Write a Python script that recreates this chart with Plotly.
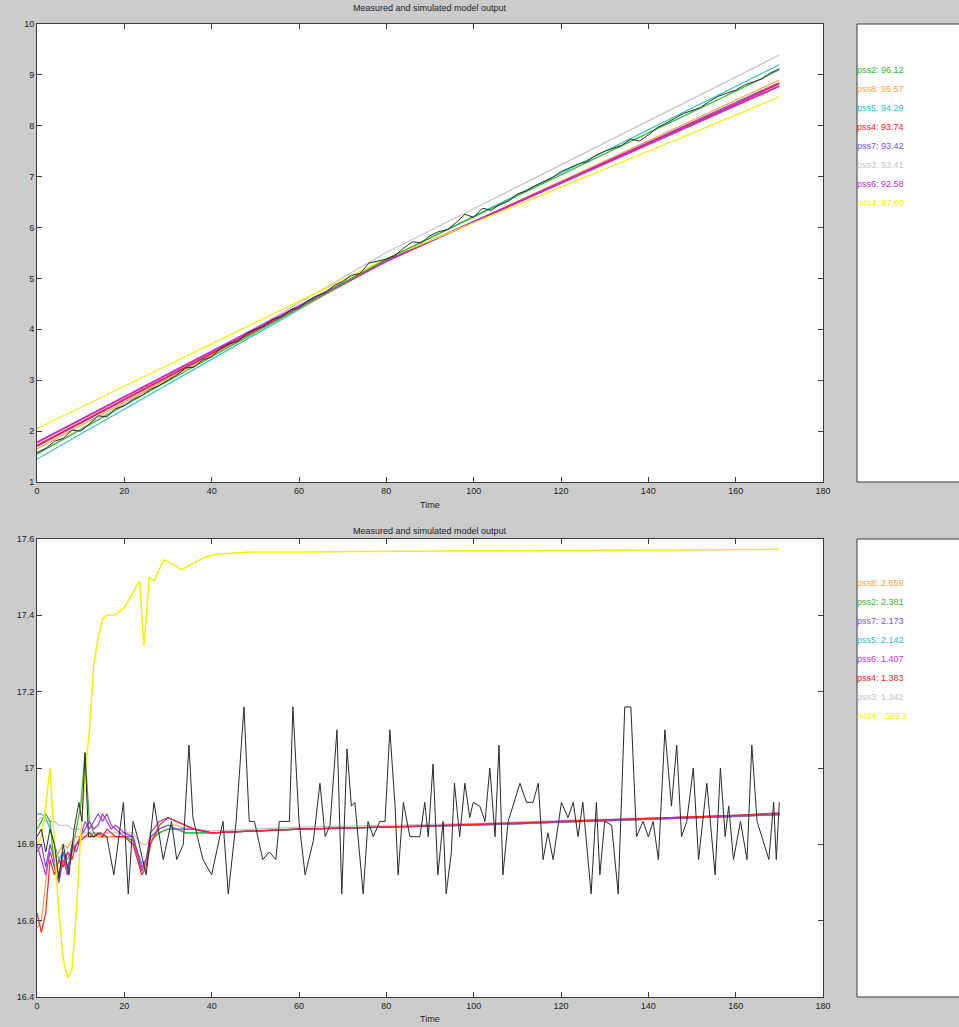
import plotly.graph_objects as go

W, H = 959, 1027

# ---------------- top panel data ----------------
top_meas_t = list(range(0, 171, 2))
top_meas = [1.58, 1.66, 1.80, 1.86, 2.02, 2.00, 2.14, 2.30, 2.28, 2.44,
            2.50, 2.62, 2.70, 2.82, 2.90, 3.00, 3.10, 3.24, 3.26, 3.40,
            3.46, 3.62, 3.72, 3.76, 3.92, 4.00, 4.06, 4.20, 4.24, 4.38,
            4.42, 4.56, 4.66, 4.72, 4.86, 4.94, 5.06, 5.10, 5.30, 5.34,
            5.38, 5.45, 5.60, 5.72, 5.70, 5.84, 5.92, 5.96, 6.10, 6.26,
            6.20, 6.38, 6.34, 6.45, 6.52, 6.66, 6.72, 6.82, 6.90, 6.98,
            7.10, 7.18, 7.25, 7.30, 7.42, 7.50, 7.56, 7.62, 7.74, 7.70,
            7.82, 7.96, 8.05, 8.14, 8.24, 8.30, 8.36, 8.48, 8.58, 8.64,
            8.70, 8.80, 8.86, 8.92, 9.04, 9.12]

top_model_t = [0, 20, 40, 60, 80, 100, 120, 140, 160, 170]
top_models = {
    "pss3": [1.55, 2.54, 3.53, 4.52, 5.51, 6.37, 7.23, 8.09, 8.95, 9.39],
    "pss5": [1.45, 2.43, 3.41, 4.39, 5.37, 6.22, 7.07, 7.92, 8.77, 9.20],
    "pss8": [1.65, 2.57, 3.49, 4.41, 5.33, 6.12, 6.91, 7.70, 8.50, 8.90],
    "pss7": [1.70, 2.61, 3.52, 4.43, 5.34, 6.11, 6.89, 7.67, 8.45, 8.85],
    "pss4": [1.72, 2.62, 3.53, 4.43, 5.34, 6.11, 6.89, 7.66, 8.43, 8.83],
    "pss6": [1.78, 2.67, 3.56, 4.45, 5.35, 6.11, 6.87, 7.63, 8.39, 8.78],
    "n4s4": [2.05, 2.88, 3.72, 4.55, 5.39, 6.09, 6.80, 7.50, 8.21, 8.57],
    "pss2": [1.55, 2.50, 3.46, 4.42, 5.38, 6.21, 7.04, 7.86, 8.68, 9.10],
}
top_legend = [("pss2", "96.12"), ("pss8", "95.57"), ("pss5", "94.29"), ("pss4", "93.74"),
              ("pss7", "93.42"), ("pss3", "93.41"), ("pss6", "92.58"), ("n4s4", "87.60")]

# ---------------- bottom panel data ----------------
bot_meas_t = [0, 1, 2, 3, 4, 5, 6, 7.3, 8.5, 9.6, 10.3, 11, 11.8, 13, 14.5, 16, 17.6, 19.8,
              20.9, 22, 23, 25, 26.8, 28.9, 30.8, 32, 33.5, 34.8, 35.7, 38, 40, 42.6, 43.8,
              45.6, 47.4, 48.6, 49.8, 51.7, 53.2, 54.7, 55.5, 57.8, 58.6, 60, 61.4, 63.3,
              64.8, 66, 67.1, 68.7, 69.8, 71, 72, 72.8, 74.7, 75.8, 77, 78.5, 79.7, 80.8,
              82, 82.7, 83.9, 85.4, 87.7, 88.8, 89.6, 90.7, 91.8, 93, 93.7, 94.9, 95.6,
              96.8, 98, 99.1, 99.9, 101.4, 102.6, 103.7, 104.9, 105.8, 106.7, 107.9,
              110.6, 112.1, 113.6, 114.8, 115.9, 117, 118.2, 120.1, 121.6, 122.8, 123.9,
              125, 126.9, 128.1, 128.9, 130, 131.6, 133.1, 134.6, 136, 137.3, 138.8, 140,
              141.1, 142.3, 143.8, 145.3, 146.5, 147.6, 148.8, 150.3, 151.5, 153.4, 155.3,
              156.5, 157.6, 158.4, 159.5, 161.1, 162.6, 163.7, 164.9, 166, 167.6, 168.7,
              169.3, 170]
bot_meas = [16.82, 16.84, 16.78, 16.84, 16.80, 16.71, 16.80, 16.72, 16.84, 16.91, 16.86,
            17.04, 16.82, 16.82, 16.83, 16.82, 16.72, 16.91, 16.67, 16.86, 16.82, 16.72,
            16.91, 16.76, 16.86, 16.76, 16.80, 17.06, 16.87, 16.76, 16.72, 16.86, 16.67,
            16.86, 17.16, 16.86, 16.86, 16.76, 16.78, 16.76, 16.86, 16.86, 17.16, 16.86,
            16.72, 16.81, 16.96, 16.82, 16.85, 17.10, 16.67, 17.05, 16.90, 16.91, 16.67,
            16.86, 16.82, 16.86, 16.86, 17.10, 16.90, 16.72, 16.91, 16.82, 16.82, 16.91,
            16.82, 17.01, 16.72, 16.86, 16.67, 16.78, 16.96, 16.82, 16.96, 16.87, 16.91,
            16.90, 16.86, 17.00, 16.82, 17.06, 16.72, 16.86, 16.96, 16.91, 16.91, 16.96,
            16.76, 16.83, 16.76, 16.91, 16.87, 16.91, 16.82, 16.91, 16.67, 16.91, 16.72,
            16.86, 16.85, 16.67, 17.16, 17.16, 16.82, 16.86, 16.82, 16.86, 16.76, 17.10,
            16.90, 17.06, 16.82, 16.86, 17.00, 16.76, 16.96, 16.72, 17.00, 16.82, 16.90,
            16.76, 16.86, 16.76, 17.06, 16.86, 16.82, 16.76, 16.91, 16.76, 16.91]

bot_model_t = [0, 1, 2, 3, 4, 5, 6, 7, 8, 9, 10, 11, 12, 13, 14, 15, 16, 17, 18, 20, 22,
               24, 25, 26, 28, 30, 32, 34, 36, 40, 50, 60, 80, 100, 120, 140, 160, 170]
bot_models = {
    "pss3": [16.86, 16.87, 16.86, 16.86, 16.86, 16.85, 16.85, 16.85, 16.84, 16.84, 16.84,
             16.83, 16.83, 16.83, 16.83, 16.83, 16.83, 16.83, 16.83, 16.83, 16.83, 16.80,
             16.80, 16.82, 16.83, 16.84, 16.84, 16.84, 16.84, 16.835, 16.84, 16.845, 16.85,
             16.855, 16.862, 16.868, 16.875, 16.88],
    "pss5": [16.88, 16.88, 16.87, 16.84, 16.80, 16.76, 16.78, 16.76, 16.79, 16.80, 16.82,
             16.82, 16.82, 16.83, 16.82, 16.82, 16.82, 16.82, 16.82, 16.82, 16.81, 16.75,
             16.76, 16.81, 16.83, 16.84, 16.84, 16.83, 16.83, 16.83, 16.835, 16.84, 16.845,
             16.85, 16.858, 16.865, 16.873, 16.878],
    "pss2": [16.84, 16.86, 16.88, 16.86, 16.74, 16.70, 16.78, 16.72, 16.78, 16.84, 16.90,
             17.04, 16.86, 16.83, 16.82, 16.82, 16.82, 16.82, 16.82, 16.82, 16.81, 16.73,
             16.75, 16.81, 16.83, 16.84, 16.84, 16.83, 16.83, 16.83, 16.835, 16.84, 16.845,
             16.85, 16.858, 16.865, 16.873, 16.878],
    "pss8": [16.58, 16.60, 16.70, 16.80, 16.76, 16.78, 16.80, 16.79, 16.81, 16.82, 16.82,
             16.82, 16.82, 16.82, 16.82, 16.82, 16.82, 16.82, 16.82, 16.82, 16.80, 16.73,
             16.75, 16.81, 16.84, 16.85, 16.85, 16.84, 16.84, 16.83, 16.835, 16.84, 16.845,
             16.85, 16.858, 16.865, 16.873, 16.878],
    "pss7": [16.78, 16.80, 16.74, 16.80, 16.76, 16.72, 16.78, 16.74, 16.78, 16.80, 16.82,
             16.86, 16.84, 16.86, 16.88, 16.86, 16.88, 16.85, 16.84, 16.82, 16.82, 16.74,
             16.76, 16.82, 16.84, 16.85, 16.84, 16.84, 16.84, 16.83, 16.835, 16.84, 16.845,
             16.85, 16.858, 16.865, 16.873, 16.878],
    "pss6": [16.80, 16.76, 16.72, 16.78, 16.74, 16.70, 16.76, 16.72, 16.80, 16.78, 16.82,
             16.84, 16.86, 16.84, 16.85, 16.88, 16.86, 16.84, 16.85, 16.83, 16.82, 16.73,
             16.76, 16.83, 16.86, 16.87, 16.86, 16.85, 16.84, 16.83, 16.835, 16.84, 16.845,
             16.852, 16.86, 16.868, 16.876, 16.882],
    "pss4": [16.62, 16.57, 16.62, 16.76, 16.72, 16.76, 16.74, 16.78, 16.76, 16.80, 16.81,
             16.82, 16.83, 16.82, 16.83, 16.82, 16.84, 16.83, 16.82, 16.82, 16.80, 16.72,
             16.74, 16.80, 16.85, 16.87, 16.86, 16.85, 16.84, 16.83, 16.835, 16.84, 16.846,
             16.852, 16.86, 16.868, 16.876, 16.882],
}
bot_yel_t = [0, 1, 2, 3, 4, 5, 6, 7, 8, 9, 10, 11, 12, 13, 14, 15, 16, 17.6, 20, 22.5,
             23.5, 24.5, 25.7, 26.8, 29, 30.2, 33.2, 35.5, 38.6, 41, 49, 60, 80, 100, 120,
             140, 160, 170]
bot_yel = [16.80, 16.82, 16.90, 17.00, 16.80, 16.62, 16.50, 16.45, 16.47, 16.62, 16.82,
           16.98, 17.10, 17.27, 17.34, 17.39, 17.40, 17.40, 17.42, 17.47, 17.49, 17.32,
           17.50, 17.49, 17.545, 17.54, 17.52, 17.535, 17.553, 17.56, 17.566, 17.566,
           17.568, 17.569, 17.570, 17.571, 17.572, 17.573]
bot_legend = [("pss8", "2.659"), ("pss2", "2.381"), ("pss7", "2.173"), ("pss5", "2.142"),
              ("pss6", "1.407"), ("pss4", "1.383"), ("pss3", "1.342"), ("n4s4", "-589.3")]

colors = {
    "pss2": "#2fb82f", "pss8": "#ffa040", "pss5": "#2ec0c0", "pss4": "#ff2020",
    "pss7": "#7a4dff", "pss3": "#c4c4c4", "pss6": "#c030d0", "n4s4": "#f2f200",
}
widths = {"pss6": 2, "pss4": 1.5}

fig = go.Figure()

for name, vals in top_models.items():
    fig.add_trace(go.Scatter(x=top_model_t, y=vals, mode="lines", xaxis="x", yaxis="y",
                             line=dict(color=colors[name], width=widths.get(name, 1.2)),
                             showlegend=False))
fig.add_trace(go.Scatter(x=top_meas_t, y=top_meas, mode="lines", xaxis="x", yaxis="y",
                         line=dict(color="#2a2a2a", width=1), showlegend=False))

for name, vals in bot_models.items():
    fig.add_trace(go.Scatter(x=bot_model_t, y=vals, mode="lines", xaxis="x2", yaxis="y2",
                             line=dict(color=colors[name], width=1.2), showlegend=False))
fig.add_trace(go.Scatter(x=bot_yel_t, y=bot_yel, mode="lines", xaxis="x2", yaxis="y2",
                         line=dict(color=colors["n4s4"], width=1.5), showlegend=False))
fig.add_trace(go.Scatter(x=bot_meas_t, y=bot_meas, mode="lines", xaxis="x2", yaxis="y2",
                         line=dict(color="#2a2a2a", width=1), showlegend=False))

def px_x(p):
    return p / W

def px_y(p):
    return 1 - p / H

xdom = [px_x(37), px_x(823)]
top_dom = [px_y(482), px_y(24)]
bot_dom = [px_y(997), px_y(539)]

axis_common = dict(showgrid=False, zeroline=False, ticks="inside", ticklen=5,
                   mirror="ticks", showline=True, linecolor="#3a3a3a", linewidth=1,
                   tickcolor="#3a3a3a", tickfont=dict(family="Liberation Sans", size=9,
                                                      color="#222222"),
                   automargin=False)

xticks = list(range(0, 181, 20))
top_yticks = list(range(1, 11))
bot_yticks = [16.4, 16.6, 16.8, 17.0, 17.2, 17.4, 17.6]
bot_ytext = ["16.4", "16.6", "16.8", "17", "17.2", "17.4", "17.6"]

fig.update_layout(
    width=W, height=H,
    margin=dict(l=0, r=0, t=0, b=0),
    paper_bgcolor="#cccccc", plot_bgcolor="#ffffff",
    xaxis=dict(domain=xdom, range=[0, 180], tickvals=xticks, anchor="y", **axis_common),
    yaxis=dict(domain=top_dom, range=[1, 10], tickvals=top_yticks, anchor="x", **axis_common),
    xaxis2=dict(domain=xdom, range=[0, 180], tickvals=xticks, anchor="y2", **axis_common),
    yaxis2=dict(domain=bot_dom, range=[16.4, 17.6], tickvals=bot_yticks, ticktext=bot_ytext,
                anchor="x2", **axis_common),
)

shapes = []
for y0, y1 in [(24, 482), (539, 997)]:
    shapes.append(dict(type="rect", xref="paper", yref="paper", x0=px_x(857), x1=px_x(1010),
                       y0=px_y(y1), y1=px_y(y0), fillcolor="#ffffff",
                       line=dict(color="#3a3a3a", width=1), layer="below"))
fig.update_layout(shapes=shapes)

annots = []
tfont = dict(family="Liberation Sans", size=9, color="#222222")
for yc in [8, 531]:
    annots.append(dict(text="Measured and simulated model output", xref="paper", yref="paper",
                       x=px_x(430), y=px_y(yc), showarrow=False, xanchor="center",
                       yanchor="middle", font=tfont))
for yc in [505, 1019]:
    annots.append(dict(text="Time", xref="paper", yref="paper", x=px_x(430), y=px_y(yc),
                       showarrow=False, xanchor="center", yanchor="middle", font=tfont))

for i, (nm, val) in enumerate(top_legend):
    annots.append(dict(text=f"{nm}: {val}", xref="paper", yref="paper", x=px_x(855),
                       y=px_y(70 + 19 * i), showarrow=False, xanchor="left", yanchor="middle",
                       font=dict(family="Liberation Sans", size=9, color=colors[nm])))
for i, (nm, val) in enumerate(bot_legend):
    annots.append(dict(text=f"{nm}: {val}", xref="paper", yref="paper", x=px_x(855),
                       y=px_y(583 + 19 * i), showarrow=False, xanchor="left", yanchor="middle",
                       font=dict(family="Liberation Sans", size=9, color=colors[nm])))
fig.update_layout(annotations=annots)

fig.write_html("out.html", config={"displayModeBar": False},
               post_script="document.body.style.margin='0';document.body.style.overflow='hidden';")
